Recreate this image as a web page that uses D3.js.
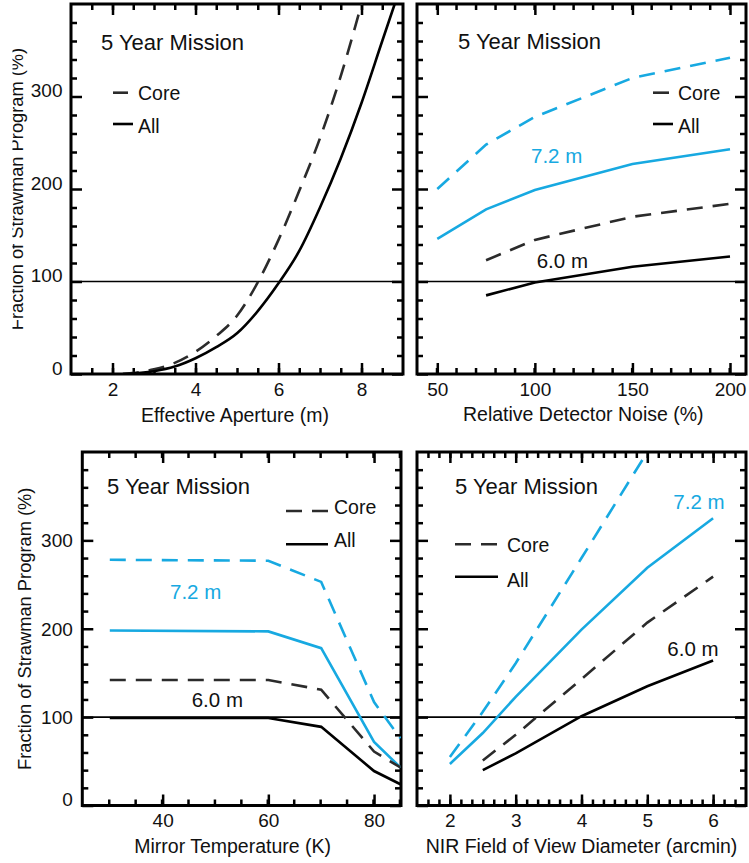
<!DOCTYPE html>
<html>
<head>
<meta charset="utf-8">
<script src="https://cdn.jsdelivr.net/npm/d3@7"></script>
<style>
  html, body { margin: 0; padding: 0; background: #fff; }
  svg { display: block; font-family: "Liberation Sans", Arial, sans-serif; }
</style>
</head>
<body>
<svg id="chart" width="749" height="863"></svg>
<script>
// ---------------- DATA ----------------
// Panel 1: Effective Aperture (m)
const apertureCoreX = [2.25, 3, 3.5, 4, 4.5, 5, 5.5, 6, 6.5, 7, 7.5, 8];
const apertureCore  = [0, 5, 12, 24, 41, 63, 99, 145, 198, 255, 322, 400];
const apertureAllX  = [2.25, 3, 3.5, 4, 4.5, 5, 5.5, 6, 6.5, 7, 7.5, 8, 8.5, 8.8];
const apertureAll   = [0, 3, 8, 17, 29, 44, 68, 98, 133, 180, 233, 293, 360, 400];
const apertureTicks = [2, 4, 6, 8];

// Panel 2: Relative Detector Noise (%)
const noise72X    = [50, 75, 100, 150, 200];
const noise72Core = [200, 248, 278, 320, 342];
const noise72All  = [146, 178, 199, 227, 243];
const noise60X    = [75, 100, 150, 200];
const noise60Core = [123, 145, 170, 184];
const noise60All  = [85, 99, 116, 127];
const noiseTicks  = [50, 100, 150, 200];

// Panel 3: Mirror Temperature (K)
const tempX      = [30, 60, 70, 80, 85];
const temp72Core = [278, 277, 253, 117, 76];
const temp72All  = [198, 197, 178, 72, 43];
const temp60Core = [142, 142, 131, 61, 43];
const temp60All  = [99, 99, 89, 39, 24];
const tempTicks  = [40, 60, 80];

// Panel 4: NIR Field of View Diameter (arcmin)
const fov72CoreX = [2, 2.5, 3, 4, 5];
const fov72Core  = [55, 106, 161, 280, 400];
const fov72AllX  = [2, 2.5, 3, 4, 5, 6];
const fov72All   = [47, 82, 123, 199, 269, 325];
const fov60X     = [2.5, 3, 4, 5, 6];
const fov60Core  = [51, 80, 143, 207, 259];
const fov60All   = [40, 59, 101, 135, 164];
const fovTicks   = [2, 3, 4, 5, 6];

const yTicks = [0, 100, 200, 300];
const yTitle = "Fraction of Strawman Program (%)";
const missionTitle = "5 Year Mission";
const legendLabels = ["Core", "All"];
const sizeLabels = ["7.2 m", "6.0 m"];

// ---------------- STYLE ----------------
const BLUE = "#17a9e1";
const DARK = "#2b2b2b";
const DASH = "16,10";

const svg = d3.select("#chart");
const zip = (xs, ys) => xs.map((x, i) => ({x, y: ys[i]}));

function panel(cfg) {
  const x = d3.scaleLinear().domain(cfg.xDomain).range([cfg.left, cfg.right]);
  const y = d3.scaleLinear().domain([0, 400]).range([cfg.bottom, cfg.top]);
  const g = svg.append("g");
  const clipId = "clip" + cfg.id;
  svg.append("clipPath").attr("id", clipId).append("rect")
    .attr("x", cfg.left).attr("y", cfg.top)
    .attr("width", cfg.right - cfg.left).attr("height", cfg.bottom - cfg.top);

  const minorX = d3.range(cfg.xDomain[0], cfg.xDomain[1] + 1e-6, cfg.xMinor)
    .filter(v => v > cfg.xDomain[0] + 1e-6 && v < cfg.xDomain[1] - 1e-6);
  const minorY = d3.range(20, 400, 20).filter(v => v % 100 !== 0);

  function styleAxis(sel) {
    sel.select(".domain").remove();
    sel.selectAll(".tick line").attr("stroke", "#000").attr("stroke-width", 2.5);
  }
  // minor ticks
  g.append("g").attr("transform", `translate(0,${cfg.bottom})`)
    .call(d3.axisBottom(x).tickValues(minorX).tickSize(-6).tickFormat("")).call(styleAxis);
  g.append("g").attr("transform", `translate(0,${cfg.top})`)
    .call(d3.axisTop(x).tickValues(minorX).tickSize(-6).tickFormat("")).call(styleAxis);
  g.append("g").attr("transform", `translate(${cfg.left},0)`)
    .call(d3.axisLeft(y).tickValues(minorY).tickSize(-6).tickFormat("")).call(styleAxis);
  g.append("g").attr("transform", `translate(${cfg.right},0)`)
    .call(d3.axisRight(y).tickValues(minorY).tickSize(-6).tickFormat("")).call(styleAxis);
  // major ticks
  const bx = g.append("g").attr("transform", `translate(0,${cfg.bottom})`)
    .call(d3.axisBottom(x).tickValues(cfg.xTicks).tickSize(-11).tickPadding(8.5).tickFormat(d3.format("d")))
    .call(styleAxis);
  bx.selectAll("text").attr("font-size", 19).attr("fill", "#111")
    .attr("font-family", "Liberation Sans, Arial, sans-serif");
  g.append("g").attr("transform", `translate(0,${cfg.top})`)
    .call(d3.axisTop(x).tickValues(cfg.xTicks).tickSize(-11).tickFormat("")).call(styleAxis);
  const ly = g.append("g").attr("transform", `translate(${cfg.left},0)`)
    .call(d3.axisLeft(y).tickValues(yTicks).tickSize(-11).tickPadding(cfg.yPad)
      .tickFormat(cfg.yLabels ? d3.format("d") : ""))
    .call(styleAxis);
  ly.selectAll("text").attr("font-size", 19).attr("fill", "#111")
    .attr("font-family", "Liberation Sans, Arial, sans-serif")
    .attr("dy", d => (cfg.yBaseline || d === 0) ? "0" : "0.33em");
  g.append("g").attr("transform", `translate(${cfg.right},0)`)
    .call(d3.axisRight(y).tickValues(yTicks).tickSize(-11).tickFormat("")).call(styleAxis);

  // frame
  g.append("rect").attr("x", cfg.left).attr("y", cfg.top)
    .attr("width", cfg.right - cfg.left).attr("height", cfg.bottom - cfg.top)
    .attr("fill", "none").attr("stroke", "#000").attr("stroke-width", 3);

  // reference line at 100
  g.append("line").attr("x1", cfg.left).attr("x2", cfg.right)
    .attr("y1", y(100)).attr("y2", y(100))
    .attr("stroke", "#000").attr("stroke-width", 1.6);

  // series
  const lines = g.append("g").attr("clip-path", `url(#${clipId})`);
  cfg.series.forEach(s => {
    const line = d3.line().x(d => x(d.x)).y(d => y(d.y))
      .curve(cfg.smooth ? d3.curveMonotoneX : d3.curveLinear);
    lines.append("path").datum(zip(s.xs, s.ys))
      .attr("d", line).attr("fill", "none")
      .attr("stroke", s.color).attr("stroke-width", 2.6)
      .attr("stroke-dasharray", s.dashed ? DASH : null);
  });

  // title
  g.append("text").attr("x", cfg.title[0]).attr("y", cfg.title[1])
    .attr("font-size", 22).attr("fill", "#111").text(missionTitle);

  // legend
  const L = cfg.legend;
  g.append("line").attr("x1", L.x1).attr("x2", L.x1 + L.coreLen)
    .attr("y1", L.coreY).attr("y2", L.coreY)
    .attr("stroke", DARK).attr("stroke-width", 2.6).attr("stroke-dasharray", DASH);
  g.append("line").attr("x1", L.x1).attr("x2", L.x1 + L.allLen)
    .attr("y1", L.allY).attr("y2", L.allY)
    .attr("stroke", "#000").attr("stroke-width", 2.6);
  g.append("text").attr("x", L.tx).attr("y", L.coreT).attr("font-size", 19.5)
    .attr("fill", "#111").text(legendLabels[0]);
  g.append("text").attr("x", L.tx).attr("y", L.allT).attr("font-size", 19.5)
    .attr("fill", "#111").text(legendLabels[1]);

  // size labels
  if (cfg.sizeLabels) {
    g.append("text").attr("x", cfg.sizeLabels[0][0]).attr("y", cfg.sizeLabels[0][1])
      .attr("font-size", 20.5).attr("fill", BLUE).text(sizeLabels[0]);
    g.append("text").attr("x", cfg.sizeLabels[1][0]).attr("y", cfg.sizeLabels[1][1])
      .attr("font-size", 20.5).attr("fill", "#111").text(sizeLabels[1]);
  }

  // x title
  g.append("text").attr("x", (cfg.left + cfg.right) / 2 + cfg.xTitleShift).attr("y", cfg.xTitleY)
    .attr("text-anchor", "middle").attr("font-size", 19.5).attr("fill", "#111").text(cfg.xTitle);

  // y title
  if (cfg.yTitle) {
    const yc = (cfg.top + cfg.bottom) / 2;
    let t = g.append("g");
    if (cfg.yTitleClip) {
      svg.append("clipPath").attr("id", "yclip" + cfg.id).append("rect")
        .attr("x", cfg.yTitleClip).attr("y", 0).attr("width", 200).attr("height", 863);
      t.attr("clip-path", `url(#yclip${cfg.id})`);
    }
    t.append("text").attr("transform", `translate(${cfg.yTitleX},${yc}) rotate(-90)`)
      .attr("text-anchor", "middle").attr("font-size", 18.3).attr("fill", "#111").text(yTitle);
  }
}

panel({
  id: 1, left: 71, right: 403, top: 4, bottom: 374,
  xDomain: [1, 9], xTicks: apertureTicks, xMinor: 0.5,
  yLabels: true, yPad: 8.5, yBaseline: true, smooth: true,
  series: [
    {xs: apertureCoreX, ys: apertureCore, color: DARK, dashed: true},
    {xs: apertureAllX, ys: apertureAll, color: "#000", dashed: false}
  ],
  title: [101, 50],
  legend: {x1: 113, coreLen: 15, allLen: 20, coreY: 92.7, allY: 124, tx: 138, coreT: 100, allT: 132.5},
  xTitle: "Effective Aperture (m)", xTitleY: 421.5, xTitleShift: -2,
  yTitle: true, yTitleX: 23, yTitleClip: 12.5
});

panel({
  id: 2, left: 417, right: 746, top: 4, bottom: 374,
  xDomain: [39.6, 208.2], xTicks: noiseTicks, xMinor: 10,
  yLabels: false, yPad: 8.5,
  series: [
    {xs: noise72X, ys: noise72Core, color: BLUE, dashed: true},
    {xs: noise72X, ys: noise72All, color: BLUE, dashed: false},
    {xs: noise60X, ys: noise60Core, color: DARK, dashed: true},
    {xs: noise60X, ys: noise60All, color: "#000", dashed: false}
  ],
  title: [458, 48.5],
  legend: {x1: 653, coreLen: 16, allLen: 20, coreY: 92.7, allY: 124, tx: 678, coreT: 100, allT: 132.5},
  sizeLabels: [[531, 162.7], [536.7, 268.3]],
  xTitle: "Relative Detector Noise (%)", xTitleY: 420.7, xTitleShift: 1.8
});

panel({
  id: 3, left: 82.3, right: 401, top: 452, bottom: 805.5,
  xDomain: [24.8, 85.1], xTicks: tempTicks, xMinor: 5,
  yLabels: true, yPad: 9.5,
  series: [
    {xs: tempX, ys: temp72Core, color: BLUE, dashed: true},
    {xs: tempX, ys: temp72All, color: BLUE, dashed: false},
    {xs: tempX, ys: temp60Core, color: DARK, dashed: true},
    {xs: tempX, ys: temp60All, color: "#000", dashed: false}
  ],
  title: [107, 493.5],
  legend: {x1: 286, coreLen: 42, allLen: 42, coreY: 511, allY: 544.3, tx: 334, coreT: 513.5, allT: 546.7},
  sizeLabels: [[170, 599.3], [191.7, 706.7]],
  xTitle: "Mirror Temperature (K)", xTitleY: 853, xTitleShift: -9,
  yTitle: true, yTitleX: 31
});

panel({
  id: 4, left: 417, right: 746, top: 452, bottom: 805.5,
  xDomain: [1.5, 6.5], xTicks: fovTicks, xMinor: 1 / 6,
  yLabels: false, yPad: 8.5,
  series: [
    {xs: fov72CoreX, ys: fov72Core, color: BLUE, dashed: true},
    {xs: fov72AllX, ys: fov72All, color: BLUE, dashed: false},
    {xs: fov60X, ys: fov60Core, color: DARK, dashed: true},
    {xs: fov60X, ys: fov60All, color: "#000", dashed: false}
  ],
  title: [455, 493.5],
  legend: {x1: 455, coreLen: 43, allLen: 43, coreY: 544.3, allY: 576.7, tx: 507, coreT: 551.7, allT: 586.7},
  sizeLabels: [[673.3, 509], [667.3, 656]],
  xTitle: "NIR Field of View Diameter (arcmin)", xTitleY: 853, xTitleShift: 0
});
</script>
</body>
</html>
